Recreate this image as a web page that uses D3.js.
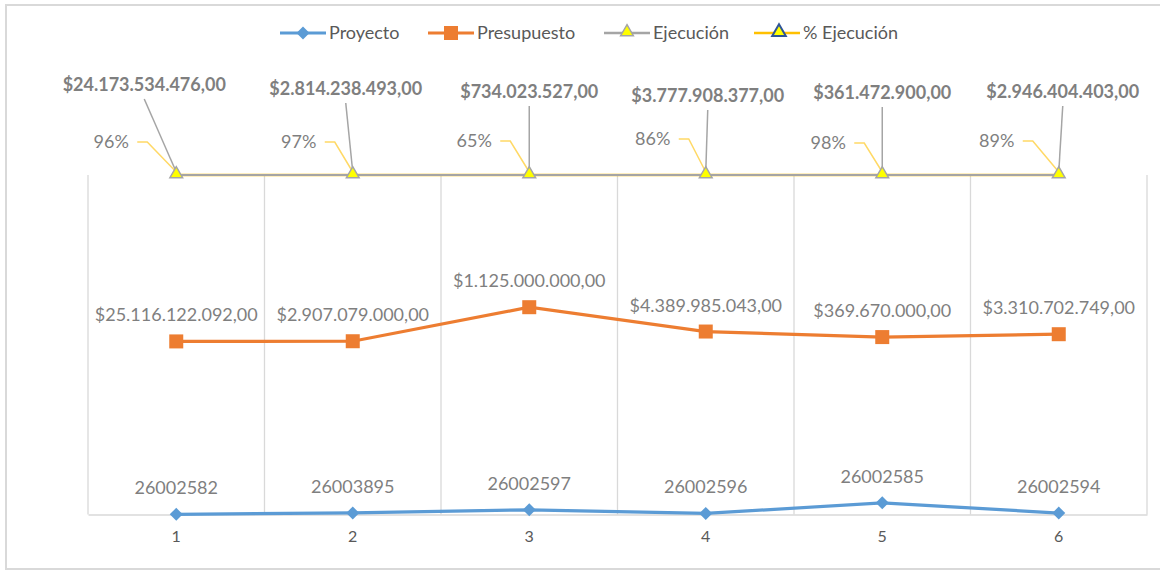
<!DOCTYPE html>
<html>
<head>
<meta charset="utf-8">
<script src="https://cdn.jsdelivr.net/npm/d3@7"></script>
<style>
  body { margin: 0; background: #fff; }
  text { font-family: Lato, "Liberation Sans", sans-serif; }
</style>
</head>
<body>
<svg id="chart" width="1160" height="570"></svg>
<script>
  // chart data
  var categories = ["1", "2", "3", "4", "5", "6"];
  var proyecto = [26002582, 26003895, 26002597, 26002596, 26002585, 26002594];
  var presupuesto = [25116122092, 2907079000, 1125000000, 4389985043, 369670000, 3310702749];
  var ejecucion = [24173534476, 2814238493, 734023527, 3777908377, 361472900, 2946404403];
  var pctEjecucion = [0.96, 0.97, 0.65, 0.86, 0.98, 0.89];

  var seriesNames = ["Proyecto", "Presupuesto", "Ejecución", "% Ejecución"];

  // hand-placed label offsets (layout only)
  var ejecLabelOffset = [[-32, -90], [-7, -86], [0, -83], [2, -79], [0, -82], [4, -83]];
  var pctLabelOffset = [[-65, -33], [-54, -33], [-55, -34], [-53, -36], [-54, -32], [-62, -34]];

  var svg = d3.select("#chart");

  var margin = { left: 88, right: 13, top: 175, bottom: 55 };
  var width = 1160, height = 570;

  // outer chart border
  svg.append("rect")
    .attr("x", 6).attr("y", 5)
    .attr("width", 1160).attr("height", 564)
    .attr("fill", "none")
    .attr("stroke", "#d9d9d9")
    .attr("stroke-width", 2);

  var rows = categories.map(function (c, i) {
    return { cat: c, p: proyecto[i], b: presupuesto[i], e: ejecucion[i], pct: pctEjecucion[i] };
  });

  // 100% stacked line
  var stack = d3.stack()
    .keys(["p", "b", "e", "pct"])
    .offset(d3.stackOffsetExpand);
  var stacked = stack(rows);

  var x = d3.scaleBand()
    .domain(categories)
    .range([margin.left, width - margin.right])
    .padding(0);
  var cx = function (c) { return x(c) + x.bandwidth() / 2; };

  var y = d3.scaleLinear()
    .domain([0, 1])
    .range([height - margin.bottom - 0.5, margin.top]);

  // vertical gridlines between categories
  var gridX = categories.map(function (c) { return x(c); }).concat([width - margin.right]);
  svg.append("g").selectAll("line")
    .data(gridX)
    .enter().append("line")
      .attr("x1", function (d) { return d; })
      .attr("x2", function (d) { return d; })
      .attr("y1", y(1))
      .attr("y2", y(0))
      .attr("stroke", "#d9d9d9")
      .attr("stroke-width", 1.3);

  // category axis
  var xAxis = svg.append("g")
    .attr("transform", "translate(0," + y(0) + ")")
    .call(d3.axisBottom(x).tickSize(0).tickPadding(16));
  xAxis.select(".domain").attr("stroke", "#d9d9d9").attr("stroke-width", 1.5);
  xAxis.selectAll("text")
    .style("font-family", "Lato, 'Liberation Sans', sans-serif")
    .style("font-size", "16px")
    .attr("fill", "#595959");

  var line = d3.line()
    .x(function (d) { return cx(d.data.cat); })
    .y(function (d) { return y(d[1]); });

  var colors = ["#5b9bd5", "#ed7d31", "#a5a5a5", "#ffc000"];

  // % Ejecución line sits under the Ejecución line
  svg.append("path")
    .datum(stacked[3])
    .attr("d", line)
    .attr("fill", "none")
    .attr("stroke", colors[3])
    .attr("stroke-width", 2.5);

  [0, 1, 2].forEach(function (k) {
    svg.append("path")
      .datum(stacked[k])
      .attr("d", line)
      .attr("fill", "none")
      .attr("stroke", colors[k])
      .attr("stroke-width", k === 2 ? 2 : 3.2);
  });

  // markers
  var diamond = "M0,-6.5L6.5,0L0,6.5L-6.5,0Z";
  var triangle = d3.symbol().type(d3.symbolTriangle).size(70);

  svg.append("g").selectAll("path")
    .data(stacked[0])
    .enter().append("path")
      .attr("d", diamond)
      .attr("transform", function (d) { return "translate(" + cx(d.data.cat) + "," + y(d[1]) + ")"; })
      .attr("fill", colors[0]);

  svg.append("g").selectAll("rect")
    .data(stacked[1])
    .enter().append("rect")
      .attr("x", function (d) { return cx(d.data.cat) - 7; })
      .attr("y", function (d) { return y(d[1]) - 7; })
      .attr("width", 14)
      .attr("height", 14)
      .attr("fill", colors[1]);

  // leader lines for Ejecución labels
  svg.append("g").selectAll("line")
    .data(stacked[2])
    .enter().append("line")
      .attr("x1", function (d, i) { return cx(d.data.cat) + ejecLabelOffset[i][0]; })
      .attr("y1", function (d, i) { return y(d[1]) + ejecLabelOffset[i][1] + 14; })
      .attr("x2", function (d) { return cx(d.data.cat); })
      .attr("y2", function (d) { return y(d[1]) - 3; })
      .attr("stroke", "#a5a5a5")
      .attr("stroke-width", 1.5);

  // leader lines for % labels
  svg.append("g").selectAll("path")
    .data(stacked[3])
    .enter().append("path")
      .attr("d", function (d, i) {
        var px = cx(d.data.cat), py = y(d[1]);
        var lx = px + pctLabelOffset[i][0] + 26, ly = py + pctLabelOffset[i][1];
        return "M" + lx + "," + ly + "H" + (lx + 10) + "L" + px + "," + (py - 3);
      })
      .attr("fill", "none")
      .attr("stroke", "#ffd966")
      .attr("stroke-width", 1.5);

  svg.append("g").selectAll("path")
    .data(stacked[2])
    .enter().append("path")
      .attr("d", triangle)
      .attr("transform", function (d) { return "translate(" + cx(d.data.cat) + "," + (y(d[1]) - 1) + ")"; })
      .attr("fill", "#ffff00")
      .attr("stroke", "#a5a5a5")
      .attr("stroke-width", 1.5);

  // number formats
  var fmtMoney = function (v) {
    var s = d3.format(",.2f")(v);
    return "$" + s.replace(/,/g, "#").replace(".", ",").replace(/#/g, ".");
  };
  var fmtPct = d3.format(".0%");

  // data labels
  svg.append("g").selectAll("text")
    .data(stacked[0])
    .enter().append("text")
      .attr("x", function (d) { return cx(d.data.cat); })
      .attr("y", function (d) { return y(d[1]) - 20; })
      .attr("text-anchor", "middle")
      .attr("fill", "#7f7f7f")
      .style("font-size", "18px")
      .text(function (d) { return d.data.p; });

  svg.append("g").selectAll("text")
    .data(stacked[1])
    .enter().append("text")
      .attr("x", function (d) { return cx(d.data.cat); })
      .attr("y", function (d) { return y(d[1]) - 20; })
      .attr("text-anchor", "middle")
      .attr("fill", "#7f7f7f")
      .style("font-size", "18px")
      .text(function (d) { return fmtMoney(d.data.b); });

  svg.append("g").selectAll("text")
    .data(stacked[2])
    .enter().append("text")
      .attr("x", function (d, i) { return cx(d.data.cat) + ejecLabelOffset[i][0]; })
      .attr("y", function (d, i) { return y(d[1]) + ejecLabelOffset[i][1] + 6; })
      .attr("text-anchor", "middle")
      .attr("fill", "#7f7f7f")
      .style("font-size", "18px")
      .style("font-weight", "bold")
      .text(function (d) { return fmtMoney(d.data.e); });

  svg.append("g").selectAll("text")
    .data(stacked[3])
    .enter().append("text")
      .attr("x", function (d, i) { return cx(d.data.cat) + pctLabelOffset[i][0]; })
      .attr("y", function (d, i) { return y(d[1]) + pctLabelOffset[i][1] + 6; })
      .attr("text-anchor", "middle")
      .attr("fill", "#7f7f7f")
      .style("font-size", "18px")
      .text(function (d) { return fmtPct(d.data.pct); });

  // legend
  var legendX = [280, 428, 604, 754];
  var legend = svg.append("g").attr("transform", "translate(0,33)");
  seriesNames.forEach(function (name, k) {
    var g = legend.append("g").attr("transform", "translate(" + legendX[k] + ",0)");
    g.append("line")
      .attr("x1", 0).attr("x2", 46)
      .attr("stroke", colors[k])
      .attr("stroke-width", k < 2 ? 3.2 : 2.5);
    if (k === 0) {
      g.append("path").attr("d", diamond).attr("transform", "translate(23,0)").attr("fill", colors[0]);
    } else if (k === 1) {
      g.append("rect").attr("x", 16).attr("y", -7).attr("width", 14).attr("height", 14).attr("fill", colors[1]);
    } else if (k === 2) {
      g.append("path").attr("d", triangle).attr("transform", "translate(23,-1)")
        .attr("fill", "#ffff00").attr("stroke", "#a5a5a5").attr("stroke-width", 1.5);
    } else {
      g.append("path").attr("d", d3.symbol().type(d3.symbolTriangle).size(80)).attr("transform", "translate(25,-1)")
        .attr("fill", "#ffff00").attr("stroke", "#2f5597").attr("stroke-width", 2);
    }
    g.append("text")
      .attr("x", 49)
      .attr("y", 6)
      .attr("fill", "#595959")
      .style("font-size", "18px")
      .text(name);
  });
</script>
</body>
</html>
